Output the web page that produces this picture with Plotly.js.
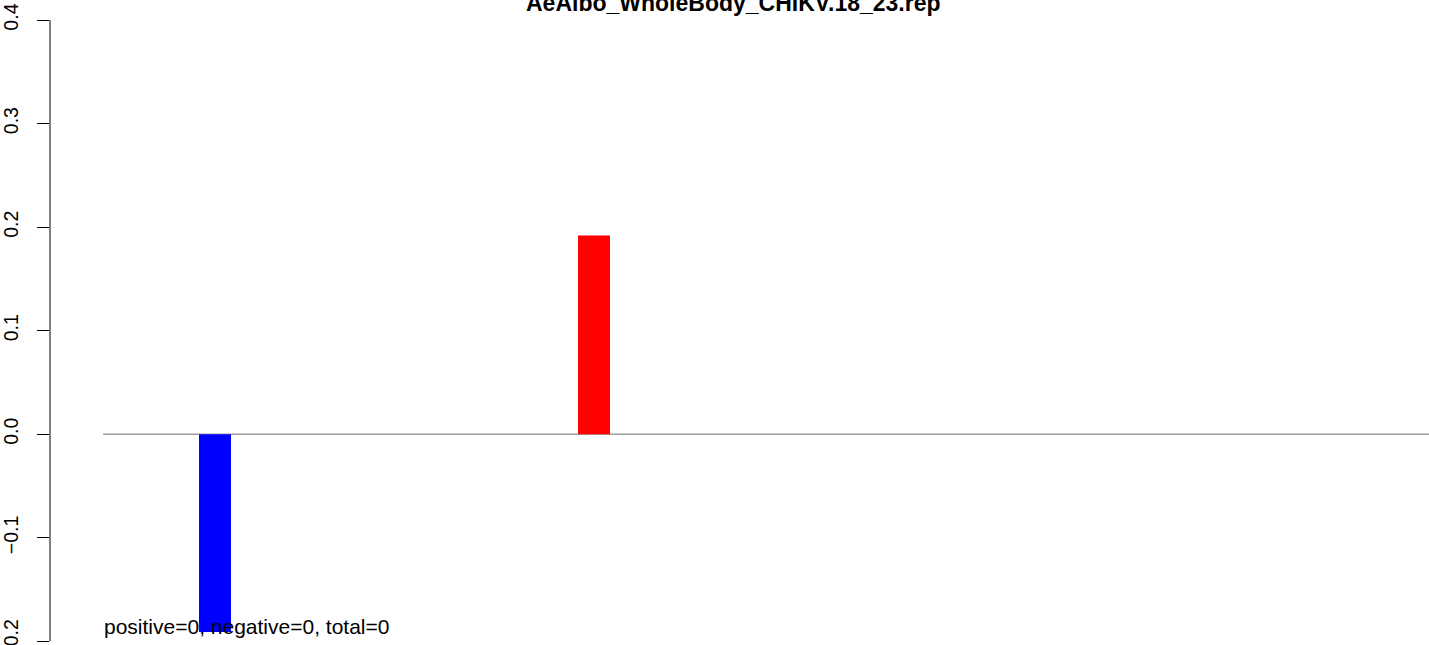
<!DOCTYPE html>
<html>
<head>
<meta charset="utf-8">
<script src="https://cdn.plot.ly/plotly-3.0.1.min.js"></script>
<style>html,body{margin:0;padding:0;background:#fff;}#chart{width:1429px;height:645px;}</style>
</head>
<body>
<div id="chart"></div>
<script>
// Data
const binPositions = [1, 11];
const binValues = [-0.191, 0.192];
const barColors = ["#0000FF", "#FF0000"];
const yTickValues = [-0.2, -0.1, 0.0, 0.1, 0.2, 0.3, 0.4];
const yTickLabels = ["\u22120.2", "\u22120.1", "0.0", "0.1", "0.2", "0.3", "0.4"];
const chartTitle = "AeAlbo_WholeBody_CHIKV.18_23.rep";
const footnote = "positive=0, negative=0, total=0";

const W = 1429, H = 645;
const mL = 50, mR = 0, mT = 20, mB = 2;
const unitPx = 37.9;
const firstBarPx = 215;
const xMin = binPositions[0] - (firstBarPx - mL) / unitPx;
const xMax = binPositions[0] + (W - mR - firstBarPx) / unitPx;
const lineStart = binPositions[0] - (firstBarPx - 103) / unitPx;

const trace = {
  type: "bar",
  x: binPositions,
  y: binValues,
  width: 0.844,
  marker: { color: barColors, line: { width: 0 } },
  hoverinfo: "x+y"
};

const layout = {
  width: W, height: H,
  margin: { l: mL, r: mR, t: mT, b: mB, pad: 0 },
  paper_bgcolor: "#fff", plot_bgcolor: "#fff",
  showlegend: false,
  font: { family: "Liberation Sans, Arial, sans-serif", color: "#000" },
  xaxis: {
    range: [xMin, xMax], visible: false, fixedrange: true, automargin: false
  },
  yaxis: {
    range: [-0.2016, 0.4],
    tickvals: yTickValues, ticktext: yTickLabels,
    tickangle: -90,
    ticks: "outside", ticklen: 12, tickwidth: 1, tickcolor: "#000",
    ticklabelstandoff: 11,
    ticklabeloverflow: "allow",
    showline: false,
    showgrid: false, zeroline: false,
    tickfont: { size: 19.5, family: "Liberation Sans, Arial, sans-serif", color: "#000" },
    automargin: false, fixedrange: true
  },
  shapes: [
    {
      type: "line", xref: "paper", yref: "y",
      x0: 0, x1: 0, y0: yTickValues[0], y1: yTickValues[yTickValues.length - 1],
      line: { color: "#000", width: 1 }
    },
    {
      type: "line", xref: "x", yref: "y",
      x0: lineStart, x1: xMax + 1, y0: 0, y1: 0,
      line: { color: "#a0a0a0", width: 1.3 },
      layer: "below"
    }
  ],
  annotations: [
    {
      text: "<b>" + chartTitle + "</b>",
      xref: "paper", yref: "paper",
      x: (733.5 - mL) / (W - mL - mR), y: 1 + (mT - 3) / (H - mT - mB),
      xanchor: "center", yanchor: "middle", showarrow: false,
      font: { size: 23, family: "Liberation Sans, Arial, sans-serif", color: "#000" }
    },
    {
      text: footnote,
      xref: "paper", yref: "paper",
      x: (102 - mL) / (W - mL - mR), y: (H - mB - 626) / (H - mT - mB),
      xanchor: "left", yanchor: "middle", showarrow: false,
      font: { size: 21, family: "Liberation Sans, Arial, sans-serif", color: "#000" }
    }
  ]
};

Plotly.newPlot("chart", [trace], layout, { displayModeBar: false, staticPlot: true });
</script>
</body>
</html>
